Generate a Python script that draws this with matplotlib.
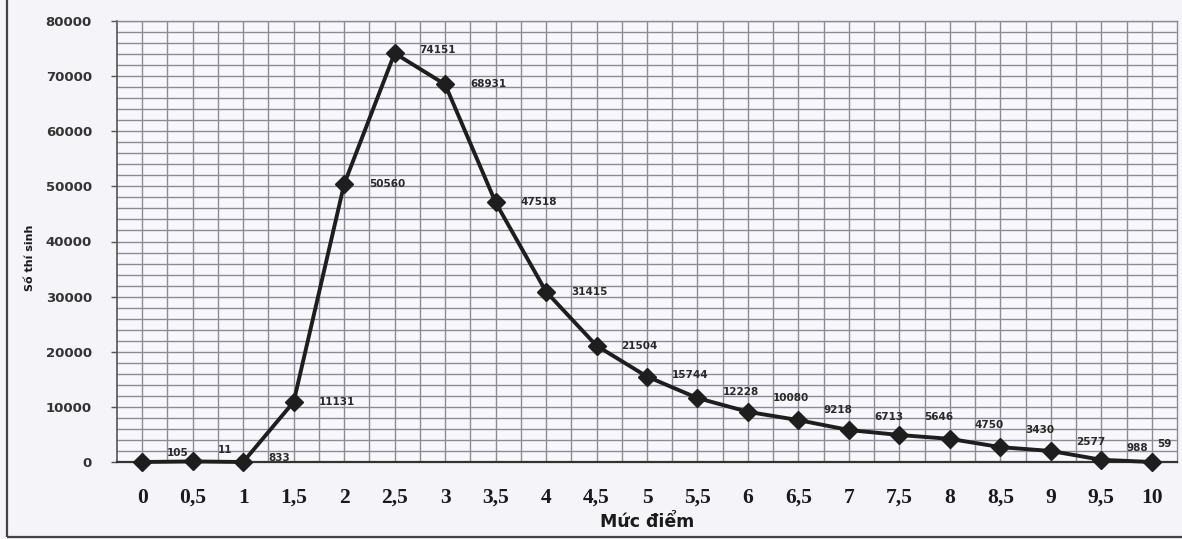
import numpy as np
import matplotlib
matplotlib.use("Agg")
import matplotlib.pyplot as plt
from matplotlib.ticker import MultipleLocator, FixedLocator
from matplotlib.patches import Rectangle

# score levels on the x axis
score_labels = ["0", "0,5", "1", "1,5", "2", "2,5", "3", "3,5", "4", "4,5", "5",
                "5,5", "6", "6,5", "7", "7,5", "8", "8,5", "9", "9,5", "10"]

# plotted values
counts = [0, 105, 0, 10900, 50400, 74151, 68500, 47100, 30900, 21100, 15500,
          11600, 9100, 7600, 5800, 4900, 4200, 2700, 2000, 400, 0]

# data label texts as printed next to each point
point_labels = ["105", "11", "833", "11131", "50560", "74151", "68931", "47518",
                "31415", "21504", "15744", "12228", "10080", "9218", "6713",
                "5646", "4750", "3430", "2577", "988", "59"]

# label nudges in pixels (up is positive)
label_dy = [9, 11, 4, 0, 0, 3, 0, 0, 0, 0, 2, 6, 14, 10, 13, 18, 14, 17, 9, 12, 18]
label_dx = [25] * 20 + [5]

X_TITLE = "M\u1ee9c \u0111i\u1ec3m"
Y_TITLE = "S\u1ed1 th\u00ed sinh"

BG = "#f4f4f9"
GRID = "#8c8c98"
PX = 0.72  # points per pixel at dpi 100

fig = plt.figure(figsize=(11.82, 5.39), dpi=100, facecolor=BG)
ax = fig.add_axes([117 / 1182, 1 - 462 / 539, 1060 / 1182, 441 / 539])
ax.set_facecolor("#f8f8fc")

x = np.arange(len(score_labels))
ax.plot(x, counts, color="#1e1e1e", linewidth=2.8, marker="D", markersize=9,
        markerfacecolor="#1e1e1e", markeredgecolor="#1e1e1e", clip_on=False, zorder=5)

for i, txt in enumerate(point_labels):
    ax.annotate(txt, (x[i], counts[i]), xytext=(label_dx[i] * PX, label_dy[i] * PX),
                textcoords="offset points", ha="left", va="center",
                fontsize=7.5, fontweight="bold", color="#2a2a2a", zorder=6)

ax.set_xlim(-0.5, len(score_labels) - 0.5)
ax.set_ylim(0, 80000)

ax.set_xticks(x)
ax.set_xticklabels(score_labels, fontfamily="Liberation Serif", fontweight="bold",
                   fontsize=15.5, color="#1a1a1a")
ax.xaxis.set_minor_locator(FixedLocator(x[:-1] + 0.5))

ax.yaxis.set_major_locator(MultipleLocator(10000))
ax.yaxis.set_minor_locator(MultipleLocator(2000))
for lab in ax.get_yticklabels():
    lab.set_fontweight("bold")

ax.grid(True, which="both", color=GRID, linewidth=1.0)
ax.set_axisbelow(True)

ax.tick_params(axis="x", which="both", length=0)
for t in ax.xaxis.get_major_ticks():
    t.set_pad(26 * PX)
ax.tick_params(axis="y", which="major", length=4, width=1, color="#555555",
               labelsize=9.5, pad=14, labelcolor="#333333")
ax.tick_params(axis="y", which="minor", length=0)

for side in ["top", "right"]:
    ax.spines[side].set_color(GRID)
    ax.spines[side].set_linewidth(1.0)
ax.spines["left"].set_color("#555555")
ax.spines["bottom"].set_color("#333333")
ax.spines["left"].set_linewidth(1.2)
ax.spines["bottom"].set_linewidth(1.6)

ax.set_xlabel(X_TITLE, fontsize=12.5, fontweight="bold", color="#1a1a1a")
ax.xaxis.set_label_coords(0.5, -(522 - 462) / 441)
ax.xaxis.label.set_va("center")
ax.set_ylabel(Y_TITLE, fontsize=8, fontweight="bold", color="#1a1a1a")
ax.yaxis.set_label_coords(-(117 - 35) / 1060, (462 - 258) / 441)

# outer chart frame (left and bottom edges visible in the scan)
fig.patches.append(Rectangle((7 / 1182, 1 - 537 / 539), 1.2, 1.2, transform=fig.transFigure,
                             fill=False, edgecolor="#444444", linewidth=1.6))

fig.savefig("out.png", dpi=100, facecolor=BG)
